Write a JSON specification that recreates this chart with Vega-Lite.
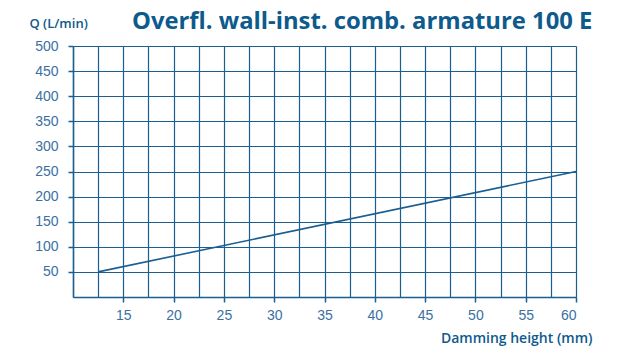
{
  "$schema": "https://vega.github.io/schema/vega-lite/v6.json",
  "width": 503,
  "height": 251,
  "autosize": {"type": "none"},
  "padding": {"left": 73, "top": 46, "right": 51, "bottom": 51},
  "background": "white",
  "title": {
    "text": "Overfl. wall-inst. comb. armature 100 E",
    "anchor": "start",
    "frame": "group",
    "dx": 59,
    "dy": 50,
    "offset": 14,
    "baseline": "alphabetic",
    "font": "Open Sans",
    "fontSize": 23.8,
    "fontWeight": "bold",
    "color": "#0d5a8c"
  },
  "config": {
    "view": {"stroke": null},
    "axis": {
      "labelFont": "Liberation Sans",
      "labelFontSize": 14,
      "labelColor": "#3a70a3",
      "domainColor": "#1b5e91",
      "tickColor": "#1b5e91",
      "gridColor": "#1b5e91",
      "gridWidth": 1.2,
      "gridOpacity": 1,
      "domainWidth": 1.5,
      "tickWidth": 1.5,
      "titleFont": "Open Sans",
      "titleColor": "#0d5a8c",
      "titleFontWeight": 600
    }
  },
  "data": {
    "values": [
      {"h": 12.5, "q": 50},
      {"h": 60, "q": 250}
    ]
  },
  "mark": {"type": "line", "color": "#1b5e91", "strokeWidth": 1.6},
  "encoding": {
    "x": {
      "field": "h",
      "type": "quantitative",
      "scale": {"domain": [10, 60], "nice": false, "zero": false},
      "axis": {
        "values": [10, 12.5, 15, 17.5, 20, 22.5, 25, 27.5, 30, 32.5, 35, 37.5, 40, 42.5, 45, 47.5, 50, 52.5, 55, 57.5, 60],
        "labelExpr": "datum.value % 5 === 0 && datum.value > 10 ? datum.label : ''",
        "tickOpacity": {"condition": {"test": "datum.value % 5 === 0 && datum.value > 10", "value": 1}, "value": 0},
        "tickSize": 5,
        "labelPadding": 6,
        "title": "Damming height (mm)",
        "titleFontSize": 14,
        "titleAlign": "right",
        "titleAnchor": null,
        "titleX": 519,
        "titleY": 45,
        "titleBaseline": "alphabetic"
      }
    },
    "y": {
      "field": "q",
      "type": "quantitative",
      "scale": {"domain": [0, 500], "nice": false},
      "axis": {
        "values": [50, 100, 150, 200, 250, 300, 350, 400, 450, 500],
        "tickSize": 5,
        "labelPadding": 10,
        "title": "Q (L/min)",
        "titleFontSize": 13,
        "titleAngle": 0,
        "titleAlign": "left",
        "titleBaseline": "alphabetic",
        "titleX": -44,
        "titleY": -19
      }
    }
  }
}
